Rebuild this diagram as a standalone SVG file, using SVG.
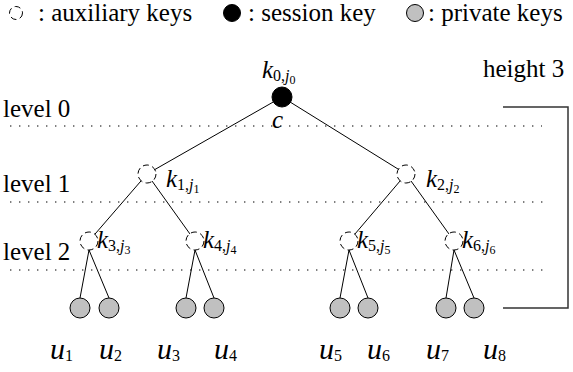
<svg xmlns="http://www.w3.org/2000/svg" width="573" height="372" viewBox="0 0 573 372" style="font-family:'Liberation Serif',serif">
  <defs>
    <style>
      .edge { stroke: #000; stroke-width: 1; fill: none; }
      .level { stroke: #555; stroke-width: 1.6; stroke-dasharray: 1.4 7.6; fill: none; }
      .aux { fill: #fff; stroke: #000; stroke-width: 1; stroke-dasharray: 6 3.5; }
      .session { fill: #000; stroke: #000; stroke-width: 1; }
      .private { fill: #c0c0c0; stroke: #000; stroke-width: 1; }
      .bracket { stroke: #333; stroke-width: 1.5; fill: none; }
    </style>
  </defs>

  <!-- legend -->
  <g id="legend">
    <circle class="aux" cx="16" cy="13" r="6.5"/>
    <text style="font-family:'Liberation Serif',serif;font-size:25px" x="38" y="21">: auxiliary keys</text>
    <circle class="session" cx="232" cy="13" r="8.5"/>
    <text style="font-family:'Liberation Serif',serif;font-size:25px" x="248" y="21">: session key</text>
    <circle class="private" cx="415" cy="13" r="8.5"/>
    <text style="font-family:'Liberation Serif',serif;font-size:25px" x="428" y="21">: private keys</text>
  </g>

  <!-- level guides -->
  <g id="levels">
    <line class="level" x1="10" y1="126" x2="542" y2="126"/>
    <line class="level" x1="10" y1="202" x2="550" y2="202"/>
    <line class="level" x1="10" y1="270" x2="550" y2="270"/>
    <text style="font-family:'Liberation Serif',serif;font-size:25px" x="3" y="117">level 0</text>
    <text style="font-family:'Liberation Serif',serif;font-size:25px" x="3" y="192">level 1</text>
    <text style="font-family:'Liberation Serif',serif;font-size:25px" x="3" y="260">level 2</text>
  </g>

  <!-- height bracket -->
  <g id="height">
    <polyline class="bracket" points="503,107 568,107 568,308 503,308"/>
    <text style="font-family:'Liberation Serif',serif;font-size:25px" x="483" y="77">height 3</text>
  </g>

  <!-- tree edges -->
  <g id="connectors">
    <line class="edge" x1="282" y1="97" x2="147" y2="174"/>
    <line class="edge" x1="282" y1="97" x2="406" y2="174"/>
    <line class="edge" x1="147" y1="174" x2="89" y2="241"/>
    <line class="edge" x1="147" y1="174" x2="195" y2="241"/>
    <line class="edge" x1="406" y1="174" x2="349" y2="241"/>
    <line class="edge" x1="406" y1="174" x2="454" y2="241"/>
    <line class="edge" x1="89" y1="250" x2="80" y2="298"/>
    <line class="edge" x1="89" y1="250" x2="109" y2="298"/>
    <line class="edge" x1="195" y1="250" x2="186" y2="298"/>
    <line class="edge" x1="195" y1="250" x2="214" y2="298"/>
    <line class="edge" x1="349" y1="250" x2="340" y2="298"/>
    <line class="edge" x1="349" y1="250" x2="368" y2="298"/>
    <line class="edge" x1="454" y1="250" x2="446" y2="298"/>
    <line class="edge" x1="454" y1="250" x2="474" y2="298"/>
  </g>

  <!-- root: session key -->
  <g id="k0">
    <circle class="session" cx="282" cy="97" r="10"/>
    <text style="font-family:'Liberation Serif',serif;font-size:25px;font-style:italic" x="262" y="78">k<tspan font-size="16" font-style="normal" dy="3">0,</tspan><tspan font-size="16">j</tspan><tspan font-size="12" font-style="normal" dy="3">0</tspan></text>
    <text style="font-family:'Liberation Serif',serif;font-size:25px;font-style:italic" x="272" y="128">c</text>
  </g>

  <!-- auxiliary keys -->
  <g id="k1">
    <circle class="aux" cx="147" cy="174" r="9"/>
    <text style="font-family:'Liberation Serif',serif;font-size:25px;font-style:italic" x="166" y="187">k<tspan font-size="16" font-style="normal" dy="3">1,</tspan><tspan font-size="16">j</tspan><tspan font-size="12" font-style="normal" dy="3">1</tspan></text>
  </g>
  <g id="k2">
    <circle class="aux" cx="406" cy="174" r="9"/>
    <text style="font-family:'Liberation Serif',serif;font-size:25px;font-style:italic" x="426" y="187">k<tspan font-size="16" font-style="normal" dy="3">2,</tspan><tspan font-size="16">j</tspan><tspan font-size="12" font-style="normal" dy="3">2</tspan></text>
  </g>
  <g id="k3">
    <circle class="aux" cx="89" cy="241" r="9"/>
    <text style="font-family:'Liberation Serif',serif;font-size:25px;font-style:italic" x="97" y="248">k<tspan font-size="16" font-style="normal" dy="3">3,</tspan><tspan font-size="16">j</tspan><tspan font-size="12" font-style="normal" dy="3">3</tspan></text>
  </g>
  <g id="k4">
    <circle class="aux" cx="195" cy="241" r="9"/>
    <text style="font-family:'Liberation Serif',serif;font-size:25px;font-style:italic" x="203" y="248">k<tspan font-size="16" font-style="normal" dy="3">4,</tspan><tspan font-size="16">j</tspan><tspan font-size="12" font-style="normal" dy="3">4</tspan></text>
  </g>
  <g id="k5">
    <circle class="aux" cx="349" cy="241" r="9"/>
    <text style="font-family:'Liberation Serif',serif;font-size:25px;font-style:italic" x="357" y="248">k<tspan font-size="16" font-style="normal" dy="3">5,</tspan><tspan font-size="16">j</tspan><tspan font-size="12" font-style="normal" dy="3">5</tspan></text>
  </g>
  <g id="k6">
    <circle class="aux" cx="454" cy="241" r="9"/>
    <text style="font-family:'Liberation Serif',serif;font-size:25px;font-style:italic" x="462" y="248">k<tspan font-size="16" font-style="normal" dy="3">6,</tspan><tspan font-size="16">j</tspan><tspan font-size="12" font-style="normal" dy="3">6</tspan></text>
  </g>

  <!-- private keys (users) -->
  <g id="u1"><circle class="private" cx="80" cy="308" r="10"/><text style="font-family:'Liberation Serif',serif;font-size:30px;font-style:italic" x="50" y="359">u<tspan font-size="16" font-style="normal" dy="2">1</tspan></text></g>
  <g id="u2"><circle class="private" cx="109" cy="308" r="10"/><text style="font-family:'Liberation Serif',serif;font-size:30px;font-style:italic" x="99" y="359">u<tspan font-size="16" font-style="normal" dy="2">2</tspan></text></g>
  <g id="u3"><circle class="private" cx="186" cy="308" r="10"/><text style="font-family:'Liberation Serif',serif;font-size:30px;font-style:italic" x="157" y="359">u<tspan font-size="16" font-style="normal" dy="2">3</tspan></text></g>
  <g id="u4"><circle class="private" cx="214" cy="308" r="10"/><text style="font-family:'Liberation Serif',serif;font-size:30px;font-style:italic" x="214" y="359">u<tspan font-size="16" font-style="normal" dy="2">4</tspan></text></g>
  <g id="u5"><circle class="private" cx="340" cy="308" r="10"/><text style="font-family:'Liberation Serif',serif;font-size:30px;font-style:italic" x="319" y="359">u<tspan font-size="16" font-style="normal" dy="2">5</tspan></text></g>
  <g id="u6"><circle class="private" cx="368" cy="308" r="10"/><text style="font-family:'Liberation Serif',serif;font-size:30px;font-style:italic" x="367" y="359">u<tspan font-size="16" font-style="normal" dy="2">6</tspan></text></g>
  <g id="u7"><circle class="private" cx="446" cy="308" r="10"/><text style="font-family:'Liberation Serif',serif;font-size:30px;font-style:italic" x="426" y="359">u<tspan font-size="16" font-style="normal" dy="2">7</tspan></text></g>
  <g id="u8"><circle class="private" cx="474" cy="308" r="10"/><text style="font-family:'Liberation Serif',serif;font-size:30px;font-style:italic" x="483" y="359">u<tspan font-size="16" font-style="normal" dy="2">8</tspan></text></g>
</svg>
